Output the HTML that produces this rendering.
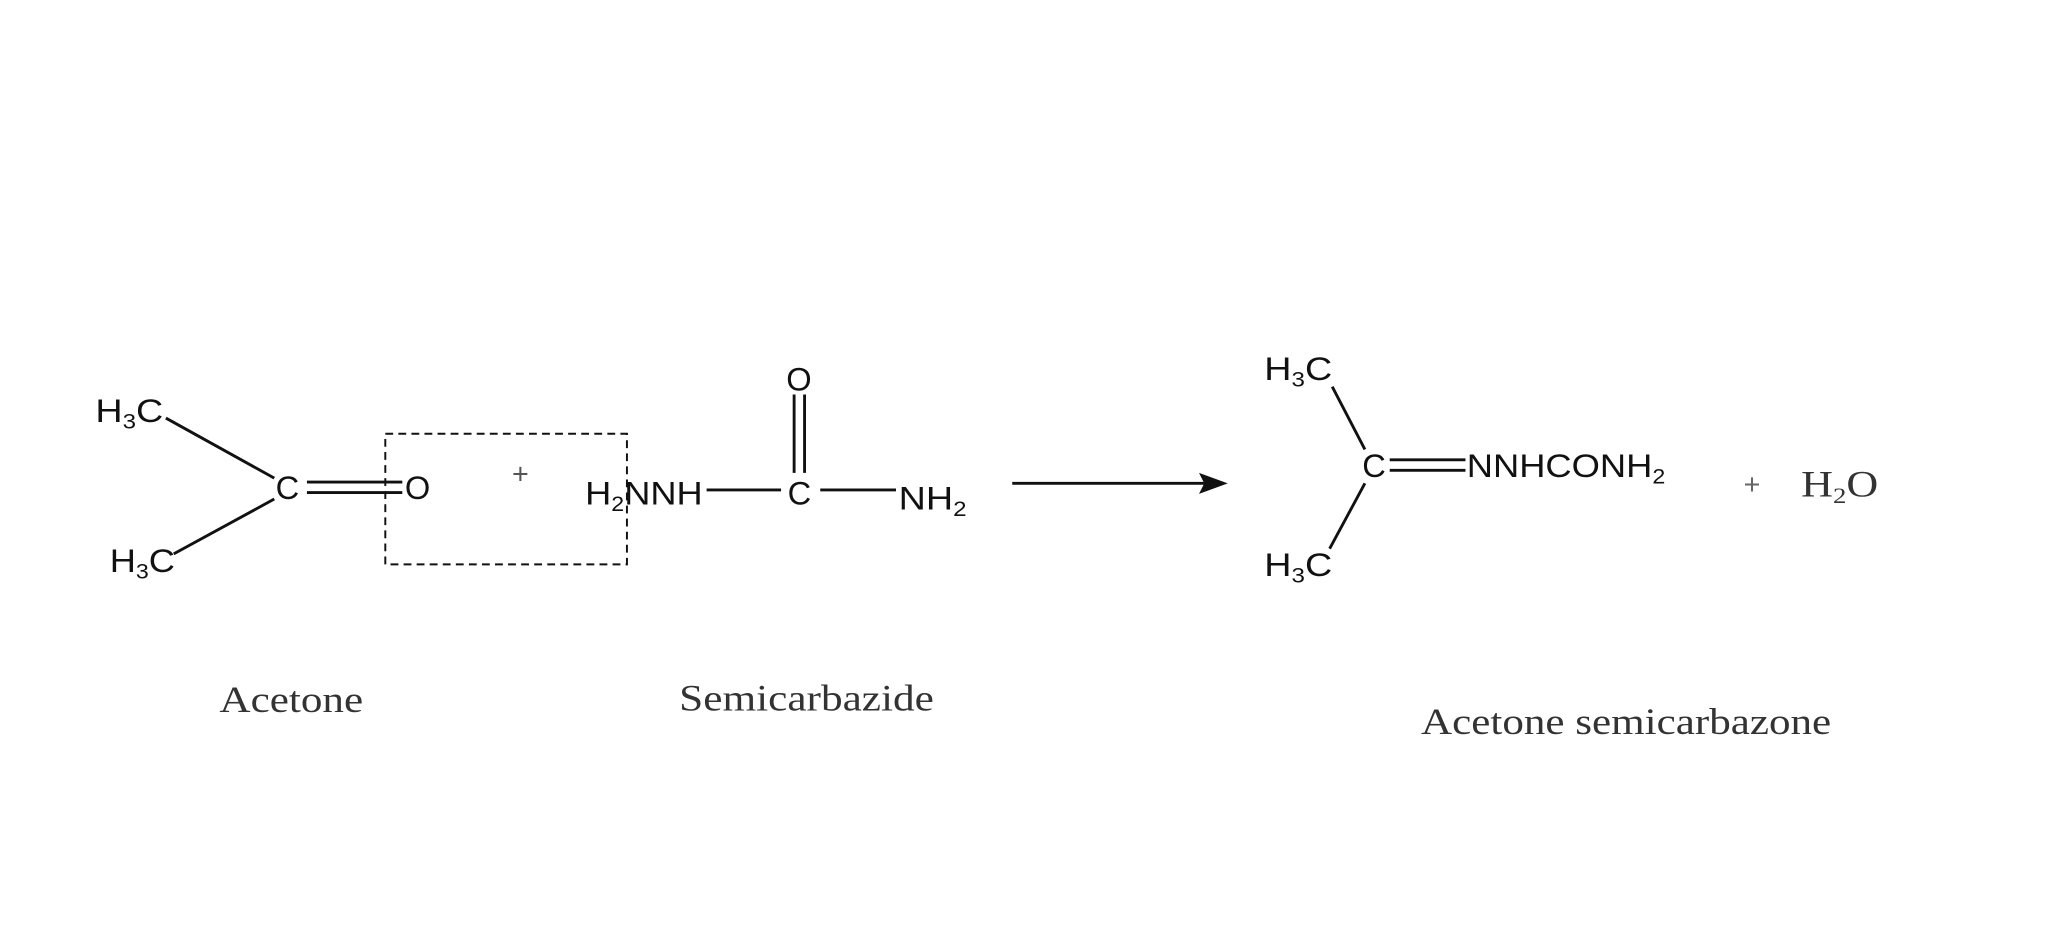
<!DOCTYPE html>
<html><head><meta charset="utf-8"><style>
html,body{margin:0;padding:0;background:#fff;}
svg{display:block}
.s{font-family:"Liberation Sans",sans-serif;font-size:25px;fill:#111}
.r{font-family:"Liberation Serif",serif;font-size:28px;fill:#333}
.sub{font-size:16px}
</style></head><body>
<svg width="2048" height="938" viewBox="0 0 1568 718" xmlns="http://www.w3.org/2000/svg">
<g stroke="#111" stroke-width="2.2" fill="none">
<line x1="127" y1="320" x2="210" y2="366"/>
<line x1="133" y1="424" x2="210" y2="382"/>
<line x1="235" y1="369" x2="308" y2="369"/>
<line x1="235" y1="377" x2="308" y2="377"/>
<line x1="541" y1="375" x2="598" y2="375"/>
<line x1="628" y1="375" x2="686" y2="375"/>
<line x1="608" y1="302" x2="608" y2="362"/>
<line x1="616" y1="302" x2="616" y2="362"/>
<line x1="1020" y1="296" x2="1045" y2="344"/>
<line x1="1045" y1="370" x2="1018" y2="420"/>
<line x1="1064" y1="352" x2="1122" y2="352"/>
<line x1="1064" y1="360" x2="1122" y2="360"/>
<line x1="775" y1="370" x2="925" y2="370"/>
</g>
<polygon points="940,370 918,362 922,370 918,378" fill="#111"/>
<rect x="295" y="332" width="185" height="100" fill="none" stroke="#111" stroke-width="1.5" stroke-dasharray="6,4"/>
<text class="s" x="73" y="323" textLength="52" lengthAdjust="spacingAndGlyphs">H<tspan class="sub" dy="5">3</tspan><tspan dy="-5">C</tspan></text>
<text class="s" x="84" y="438" textLength="50" lengthAdjust="spacingAndGlyphs">H<tspan class="sub" dy="5">3</tspan><tspan dy="-5">C</tspan></text>
<text class="s" x="211" y="382">C</text>
<text class="s" x="310" y="382">O</text>
<text x="392" y="370" style="font-family:'Liberation Sans',sans-serif;font-size:22px;fill:#555">+</text>
<text class="s" x="448" y="386" textLength="90" lengthAdjust="spacingAndGlyphs">H<tspan class="sub" dy="5">2</tspan><tspan dy="-5">NNH</tspan></text>
<text class="s" x="603" y="386">C</text>
<text class="s" x="602" y="299">O</text>
<text class="s" x="688" y="390" textLength="52" lengthAdjust="spacingAndGlyphs">NH<tspan class="sub" dy="5">2</tspan></text>
<text class="s" x="968" y="291" textLength="52" lengthAdjust="spacingAndGlyphs">H<tspan class="sub" dy="5">3</tspan><tspan dy="-5">C</tspan></text>
<text class="s" x="968" y="441" textLength="52" lengthAdjust="spacingAndGlyphs">H<tspan class="sub" dy="5">3</tspan><tspan dy="-5">C</tspan></text>
<text class="s" x="1043" y="365">C</text>
<text class="s" x="1123" y="365" textLength="152" lengthAdjust="spacingAndGlyphs">NNHCONH<tspan class="sub" dy="5">2</tspan></text>
<text x="1335" y="378" style="font-family:'Liberation Sans',sans-serif;font-size:22px;fill:#666">+</text>
<text x="1379" y="380" textLength="59" lengthAdjust="spacingAndGlyphs" style="font-family:'Liberation Serif',serif;font-size:28px;fill:#333">H<tspan style="font-size:17px" dy="5">2</tspan><tspan dy="-5">O</tspan></text>
<text class="r" x="168" y="545" textLength="110" lengthAdjust="spacingAndGlyphs">Acetone</text>
<text class="r" x="520" y="544" textLength="195" lengthAdjust="spacingAndGlyphs">Semicarbazide</text>
<text class="r" x="1088" y="562" textLength="314" lengthAdjust="spacingAndGlyphs">Acetone semicarbazone</text>
</svg>
</body></html>
